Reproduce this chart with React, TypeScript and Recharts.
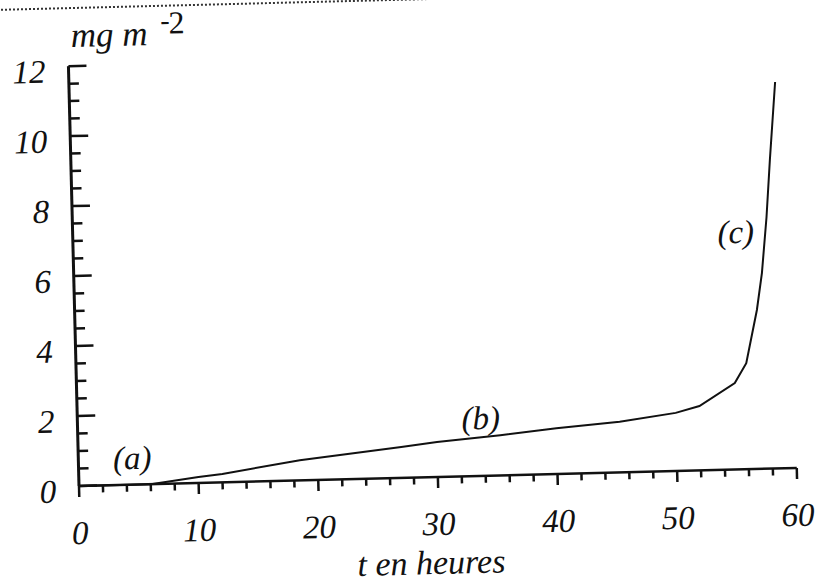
import React from "react";
import {
  LineChart,
  Line,
  XAxis,
  YAxis,
  ReferenceDot,
} from "recharts";

// time in hours, mass in mg m^-2
const hours = [0, 6, 10, 12, 18.5, 27, 30, 35.3, 40, 45.3, 50, 52, 55, 56, 57, 57.5, 58, 58.4, 59];
const mass = [0, 0, 0.17, 0.24, 0.58, 0.88, 1.0, 1.15, 1.31, 1.45, 1.66, 1.84, 2.47, 3.03, 4.54, 5.6, 7.19, 8.82, 11.04];

const xTicks = [0, 2, 4, 6, 8, 10, 12, 14, 16, 18, 20, 22, 24, 26, 28, 30, 32, 34, 36, 38, 40, 42, 44, 46, 48, 50, 52, 54, 56, 58, 60];
const xMajor = [0, 10, 20, 30, 40, 50, 60];
const yTicks = [0, 0.5, 1, 1.5, 2, 2.5, 3, 3.5, 4, 4.5, 5, 5.5, 6, 6.5, 7, 7.5, 8, 8.5, 9, 9.5, 10, 10.5, 11, 11.5, 12];
const yMajor = [0, 2, 4, 6, 8, 10, 12];

const curveLabels = [
  { text: "(a)", t: 4.5, v: 0.76 },
  { text: "(b)", t: 33.7, v: 1.65 },
  { text: "(c)", t: 55.4, v: 6.78 },
];

const data = hours.map((t, i) => ({ t, v: mass[i] }));

const font = "'Liberation Serif', 'DejaVu Serif', serif";
const ink = "#111";

const XTick = (props: any) => {
  const { x, y, payload } = props;
  const major = xMajor.includes(payload.value);
  return (
    <g>
      <line x1={x} y1={y} x2={x} y2={y + (major ? 11 : 7)} stroke={ink} strokeWidth={2.5} />
      {major && (
        <text x={x} y={y + 58} textAnchor="middle" fontFamily={font} fontStyle="italic" fontSize={33} fill={ink}>
          {payload.value}
        </text>
      )}
    </g>
  );
};

const YTick = (props: any) => {
  const { x, y, payload } = props;
  const major = yMajor.includes(payload.value);
  return (
    <g>
      <line x1={x} y1={y} x2={x + (major ? 18 : 10)} y2={y} stroke={ink} strokeWidth={2.5} />
      {major && (
        <text x={x - 23} y={y + 16} textAnchor="end" fontFamily={font} fontStyle="italic" fontSize={33} fill={ink}>
          {payload.value}
        </text>
      )}
    </g>
  );
};

const XTitle = (props: any) => {
  const vb = props.viewBox || {};
  return (
    <text x={vb.x + vb.width * 0.488} y={vb.y + 97} textAnchor="middle" fontFamily={font} fontStyle="italic" fontSize={34} fill={ink}>
      t en heures
    </text>
  );
};

const YTitle = (props: any) => {
  const vb = props.viewBox || {};
  const left = vb.x + vb.width;
  const top = vb.y;
  return (
    <text fontFamily={font} fontStyle="italic" fontSize={35} fill={ink}>
      <tspan x={left + 3} y={top - 19}>mg m</tspan>
      <tspan x={left + 93} y={top - 34} fontStyle="normal" fontSize={28}>-</tspan>
      <tspan x={left + 101} y={top - 30} fontStyle="normal" fontSize={32}>2</tspan>
    </text>
  );
};

const App: React.FC = () => {
  return (
    <div style={{ position: "absolute", left: 0, top: 0, width: 818, height: 585, overflow: "hidden", background: "#fff" }}>
      <div
        style={{
          position: "absolute",
          left: 0,
          top: 0,
          width: 818,
          height: 620,
          transform: "rotate(-1.44deg)",
          transformOrigin: "79px 486px",
        }}
      >
        <div style={{ position: "absolute", left: -30, top: 7, width: 900, borderTop: "2px dotted #333" }} />
        <LineChart
          width={818}
          height={620}
          data={data}
          margin={{ top: 66, right: 21, bottom: 104, left: 0 }}
        >
          <XAxis
            dataKey="t"
            type="number"
            domain={[0, 60]}
            ticks={xTicks}
            interval={0}
            height={30}
            tickSize={0}
            tickMargin={0}
            tickLine={false}
            axisLine={{ stroke: ink, strokeWidth: 2.5 }}
            tick={<XTick />}
            label={<XTitle />}
          />
          <YAxis
            type="number"
            domain={[0, 12]}
            ticks={yTicks}
            interval={0}
            width={79}
            tickSize={0}
            tickMargin={0}
            tickLine={false}
            axisLine={{ stroke: ink, strokeWidth: 3 }}
            tick={<YTick />}
            label={<YTitle />}
          />
          <Line
            type="linear"
            dataKey="v"
            stroke={ink}
            strokeWidth={2}
            dot={false}
            isAnimationActive={false}
          />
          {curveLabels.map((l) => (
            <ReferenceDot
              key={l.text}
              x={l.t}
              y={l.v}
              r={0}
              shape={(p: any) => (
                <text x={p.cx} y={p.cy + 11} textAnchor="middle" fontFamily={font} fontStyle="italic" fontSize={33} fill={ink}>
                  {l.text}
                </text>
              )}
            />
          ))}
        </LineChart>
      </div>
    </div>
  );
};

export default App;
